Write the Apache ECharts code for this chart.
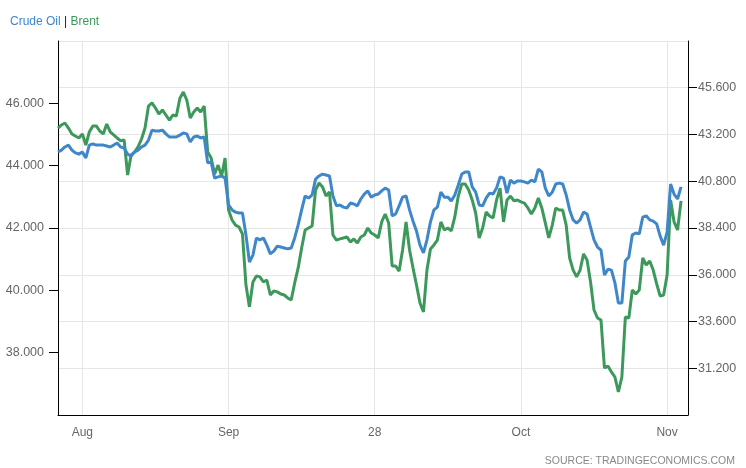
<!DOCTYPE html>
<html>
<head>
<meta charset="utf-8">
<script src="https://cdn.jsdelivr.net/npm/echarts@6/dist/echarts.min.js"></script>
<style>
html,body{margin:0;padding:0;background:#fff;}
#chart{width:746px;height:468px;}
</style>
</head>
<body>
<div id="chart"></div>
<script>
// Crude Oil (left axis), Brent (right axis)
const crudeOil = [
44.44,44.50,44.60,44.66,44.50,44.41,44.37,44.44,44.25,44.66,
44.70,44.66,44.66,44.66,44.63,44.60,44.66,44.73,44.60,44.57,
44.37,44.31,44.44,44.50,44.60,44.66,44.82,45.14,45.11,45.11,
45.14,45.02,44.92,44.92,44.92,44.98,45.05,45.02,44.76,44.92,
44.95,44.89,44.92,44.09,44.12,43.60,43.64,43.67,43.60,42.74,
42.58,42.51,42.48,42.48,41.78,40.91,41.13,41.68,41.62,41.68,
41.45,41.17,41.26,41.42,41.39,41.36,41.33,41.36,41.68,42.10,
42.58,43.03,42.96,43.06,43.57,43.67,43.73,43.70,43.67,43.03,
42.71,42.74,42.67,42.64,42.80,42.77,42.71,42.93,43.09,43.19,
42.99,43.06,43.09,43.19,43.28,43.22,42.39,42.45,42.71,42.99,
43.03,42.58,42.22,41.90,41.45,41.20,41.62,42.19,42.58,42.67,
43.15,42.99,42.99,42.87,43.06,43.38,43.73,43.80,43.80,43.32,
43.15,42.74,42.71,42.96,43.12,43.09,43.28,43.64,43.60,43.12,
43.54,43.44,43.51,43.51,43.48,43.44,43.54,43.48,43.89,43.80,
43.28,43.03,43.15,43.41,43.44,43.41,43.06,42.58,42.26,42.16,
42.26,42.51,42.45,42.03,41.62,41.39,41.29,40.49,40.68,40.65,
40.24,39.59,39.59,40.94,41.07,41.78,41.84,41.81,42.35,42.39,
42.26,42.22,42.13,41.74,41.45,41.87,43.41,43.09,42.93,43.32
];
const brent = [
43.53,43.69,43.79,43.53,43.23,43.12,43.02,43.23,42.66,43.33,
43.64,43.64,43.38,43.23,43.74,43.33,43.18,43.02,42.87,42.92,
41.12,42.15,42.30,42.56,42.97,43.53,44.66,44.82,44.56,44.25,
44.46,44.20,43.94,44.20,44.15,45.05,45.38,44.97,44.05,44.36,
44.56,44.36,44.66,42.30,41.99,41.17,41.63,41.07,41.99,39.32,
38.81,38.55,38.45,38.09,35.47,34.35,35.63,35.94,35.89,35.63,
35.73,34.96,35.17,35.12,35.01,34.96,34.81,34.70,35.58,36.35,
37.37,38.30,38.40,38.50,40.35,40.71,40.51,40.04,40.25,38.04,
37.78,37.84,37.89,37.94,37.68,37.84,37.63,37.94,38.04,38.40,
38.14,38.04,37.89,38.71,39.12,38.66,36.45,36.45,36.19,37.27,
38.71,37.27,36.35,35.47,34.55,34.09,36.24,37.32,37.53,37.78,
38.71,38.30,38.40,38.25,38.97,40.04,40.66,40.66,40.35,39.84,
39.17,37.89,38.40,39.22,39.02,38.91,39.84,40.45,38.71,39.84,
40.04,39.79,39.84,39.74,39.68,39.43,39.12,39.43,39.94,39.43,
38.66,37.89,38.55,39.43,39.32,39.32,38.55,36.86,36.24,35.89,
36.24,37.07,36.76,35.63,34.19,33.78,33.68,31.21,31.32,31.01,
30.75,29.98,30.75,33.83,33.78,35.22,35.01,35.22,36.86,36.50,
36.71,36.24,35.53,34.91,34.96,35.99,39.84,38.71,38.30,39.79
];
const xTickLabels = ['Aug', 'Sep', '28', 'Oct', 'Nov'];
const xTickIndex = [7, 49, 91, 133, 175];
const seriesNames = ['Crude Oil', 'Brent'];

const N = crudeOil.length + 2;
const categories = [];
for (let i = 0; i < N; i++) {
  const k = xTickIndex.indexOf(i);
  categories.push(k >= 0 ? xTickLabels[k] : '');
}
const isTick = (i) => categories[i] !== '';

const FONT = "'Liberation Sans', Arial, sans-serif";
const labelColor = '#666';
const blue = '#3f87c9';
const green = '#3d995b';
const gridColor = '#e6e6e6';

const chart = echarts.init(document.getElementById('chart'), null, {renderer: 'canvas'});
chart.setOption({
  animation: false,
  backgroundColor: '#fff',
  title: {
    left: 5, top: 11,
    text: '{a|' + seriesNames[0] + '} {b||} {c|' + seriesNames[1] + '}',
    textStyle: {
      fontSize: 12, fontFamily: FONT, fontWeight: 'normal',
      rich: {
        a: {color: blue, fontSize: 12, fontFamily: FONT},
        b: {color: '#222', fontSize: 12, fontFamily: FONT},
        c: {color: green, fontSize: 12, fontFamily: FONT}
      }
    }
  },
  graphic: [{
    type: 'text', right: 11, bottom: 1,
    style: {text: 'SOURCE: TRADINGECONOMICS.COM', fill: '#888', fontSize: 10.5, fontFamily: FONT}
  }],
  grid: {left: 58, right: 58, top: 41, bottom: 53, containLabel: false},
  xAxis: {
    type: 'category',
    data: categories,
    boundaryGap: false,
    axisLine: {show: true, lineStyle: {color: '#000', width: 1}},
    axisTick: {show: false},
    axisLabel: {interval: (i) => isTick(i), color: labelColor, fontSize: 12, fontFamily: FONT, margin: 12},
    splitLine: {show: true, interval: (i) => isTick(i), lineStyle: {color: gridColor, width: 1}}
  },
  yAxis: [{
    type: 'value', position: 'left', min: 36, max: 48, interval: 2,
    axisLine: {show: true, lineStyle: {color: '#000', width: 1}},
    axisTick: {show: true, length: 9, lineStyle: {color: '#000'}},
    axisLabel: {color: labelColor, fontSize: 12.5, fontFamily: FONT, margin: 14,
      showMinLabel: false, showMaxLabel: false, formatter: (v) => v.toFixed(3)},
    splitLine: {show: false}
  }, {
    type: 'value', position: 'right', min: 28.8, max: 48, interval: 2.4,
    axisLine: {show: true, lineStyle: {color: '#000', width: 1}},
    axisTick: {show: true, length: 9, lineStyle: {color: '#000'}},
    axisLabel: {color: labelColor, fontSize: 12.5, fontFamily: FONT, margin: 10,
      showMinLabel: false, showMaxLabel: false, formatter: (v) => v.toFixed(3)},
    splitLine: {show: true, lineStyle: {color: gridColor, width: 1}}
  }],
  series: [{
    name: seriesNames[0], type: 'line', yAxisIndex: 0, data: crudeOil,
    showSymbol: false, symbol: 'none', smooth: false,
    lineStyle: {color: blue, width: 3}, itemStyle: {color: blue}, z: 3
  }, {
    name: seriesNames[1], type: 'line', yAxisIndex: 1, data: brent,
    showSymbol: false, symbol: 'none', smooth: false,
    lineStyle: {color: green, width: 3}, itemStyle: {color: green}, z: 2
  }]
});
</script>
</body>
</html>
